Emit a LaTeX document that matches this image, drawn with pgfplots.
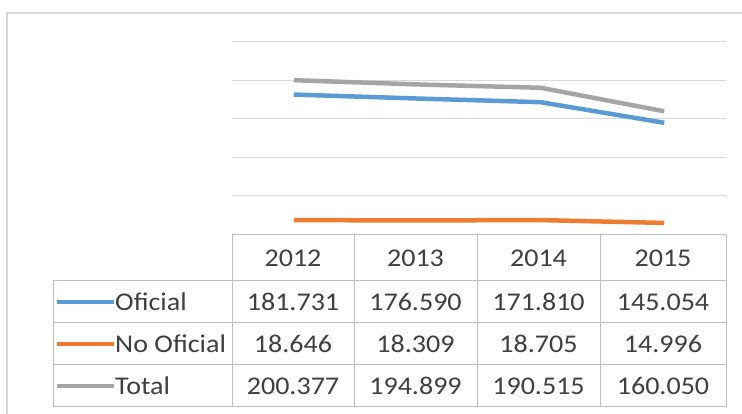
\documentclass[border=0pt]{standalone}
\usepackage{pgfplots}
\pgfplotsset{compat=1.18}
\usepackage{fontspec}
\setmainfont{Carlito}[FakeStretch=1.1]
\definecolor{cBlue}{HTML}{5B9BD5}
\definecolor{cOrange}{HTML}{ED7D31}
\definecolor{cGray}{HTML}{A5A5A5}
\definecolor{cGrid}{HTML}{D9D9D9}
\definecolor{cTab}{HTML}{BFBFBF}
\definecolor{cText}{HTML}{404040}

\pgfplotstableread{
x oficial nooficial total
0 181731 18646 200377
1 176590 18309 194899
2 171810 18705 190515
3 145054 14996 160050
}\datos

\begin{document}
\begin{tikzpicture}
\useasboundingbox (0,0) rectangle (742pt,414pt);
\fill[white] (0,0) rectangle (742pt,414pt);

\begin{axis}[
    at={(232pt,179.5pt)}, anchor=south west,
    scale only axis,
    width=494pt, height=192.5pt,
    xmin=-0.5, xmax=3.5,
    ymin=0, ymax=250000,
    ytick={50000,100000,...,250000},
    scaled y ticks=false,
    xtick=\empty,
    yticklabels={},
    major tick length=0pt,
    ymajorgrids,
    grid style={cGrid, line width=1pt},
    axis line style={draw=none},
    clip=false,
]
\addplot[cBlue, line width=4.5pt, line join=round] table[x=x, y=oficial] {\datos};
\addplot[cOrange, line width=4.5pt, line join=round] table[x=x, y=nooficial] {\datos};
\addplot[cGray, line width=4.5pt, line join=round] table[x=x, y=total] {\datos};
\end{axis}

\begin{scope}[x=1pt, y=-1pt, shift={(0,414pt)}]
  % chart frame
  \draw[cGrid, line width=1.5pt] (7,414) -- (7,13) -- (742,13);
  % data table grid
  \draw[cTab, line width=1pt] (232,235) -- (726,235);
  \draw[cTab, line width=1pt] (53,281) -- (726,281);
  \draw[cTab, line width=1pt] (53,323) -- (726,323);
  \draw[cTab, line width=1pt] (53,365) -- (726,365);
  \draw[cTab, line width=1pt] (53,407) -- (726,407);
  \draw[cTab, line width=1pt] (53,281) -- (53,407);
  \foreach \xx in {232,354,477,600,726}
    \draw[cTab, line width=1pt] (\xx,235) -- (\xx,407);
  % legend keys
  \draw[cBlue, line width=4.5pt] (57,302) -- (114,302);
  \draw[cOrange, line width=4.5pt] (57,344) -- (114,344);
  \draw[cGray, line width=4.5pt] (57,386) -- (114,386);
  \begin{scope}[every node/.style={text=cText, font=\fontsize{25.5}{28}\selectfont, inner sep=0pt}]
    \node[anchor=west] at (115,302) {Oficial};
    \node[anchor=west] at (115,344) {No Oficial};
    \node[anchor=west] at (115,386) {Total};
    \node at (293,258) {2012};
    \node at (415.5,258) {2013};
    \node at (538.5,258) {2014};
    \node at (663,258) {2015};
    \node at (293,302) {181.731};
    \node at (415.5,302) {176.590};
    \node at (538.5,302) {171.810};
    \node at (663,302) {145.054};
    \node at (293,344) {18.646};
    \node at (415.5,344) {18.309};
    \node at (538.5,344) {18.705};
    \node at (663,344) {14.996};
    \node at (293,386) {200.377};
    \node at (415.5,386) {194.899};
    \node at (538.5,386) {190.515};
    \node at (663,386) {160.050};
  \end{scope}
\end{scope}
\end{tikzpicture}
\end{document}
